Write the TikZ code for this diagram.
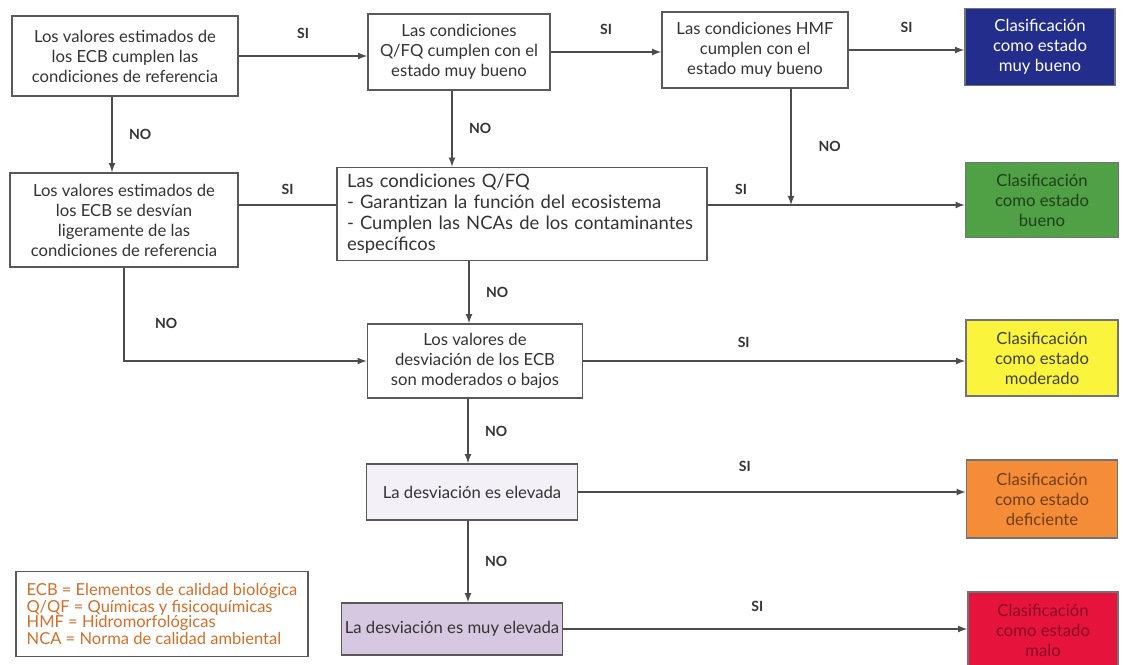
\documentclass[tikz,border=0pt]{standalone}
\usepackage{fontspec}
\setmainfont{Lato}
\usetikzlibrary{calc}
\definecolor{azulMB}{RGB}{35,45,140}
\definecolor{verdeB}{RGB}{80,160,70}
\definecolor{amarilloM}{RGB}{250,245,60}
\definecolor{naranjaD}{RGB}{245,140,55}
\definecolor{rojoMalo}{RGB}{230,20,60}
\definecolor{lilaClaro}{RGB}{243,241,247}
\definecolor{lila}{RGB}{215,200,225}
\definecolor{ocre}{RGB}{210,110,40}
\tikzset{
  caja/.style={draw=black!65, line width=0.9pt, align=center, inner sep=2pt,
    font=\fontsize{9.5}{11.4}\selectfont, text=black!80},
  clase/.style={caja, draw=black!55, minimum width=3cm, minimum height=1.52cm},
  flecha/.style={draw=black!70, line width=0.8pt, -latex},
  linea/.style={draw=black!70, line width=0.8pt},
  rama/.style={font=\fontsize{8}{9}\selectfont\bfseries, text=black!80}
}
\begin{document}
\begin{tikzpicture}[x=0.02cm, y=-0.02cm]
  \useasboundingbox (0,0) rectangle (1123,665);
  %%%%% cajas de decision %%%%%
  \node[caja, minimum width=4.52cm, minimum height=1.6cm] (ecbRef) at (125,56)
    {Los valores estimados de\\ los ECB cumplen las\\ condiciones de referencia};
  \node[caja, minimum width=3.64cm, minimum height=1.52cm] (qfqMB) at (459,52)
    {Las condiciones\\ Q/FQ cumplen con el\\ estado muy bueno};
  \node[caja, minimum width=3.72cm, minimum height=1.52cm] (hmfMB) at (755,50)
    {Las condiciones HMF\\ cumplen con el\\ estado muy bueno};
  \node[caja, minimum width=4.56cm, minimum height=1.88cm] (ecbLeve) at (124,220)
    {Los valores estimados de\\ los ECB se desvían\\ ligeramente de las\\ condiciones de referencia};
  \node[caja, align=left, text width=7.0cm, inner xsep=0.2cm, minimum height=1.86cm,
    font=\fontsize{10.5}{12}\selectfont] (qfqList) at (522,214)
    {Las condiciones Q/FQ\\ - Garantizan la función del ecosistema\\ - Cumplen las NCAs de los contaminantes\\ específicos};
  \node[caja, minimum width=4.3cm, minimum height=1.48cm] (moderadoQ) at (475,361)
    {Los valores de\\ desviación de los ECB\\ son moderados o bajos};
  \node[caja, fill=lilaClaro, minimum width=4.22cm, minimum height=1.12cm] (elevada) at (472,492)
    {La desviación es elevada};
  \node[caja, fill=lila, minimum width=3.36cm, minimum height=1.04cm] (muyElevada) at (452,629)
    {La desviación es muy elevada};
  %%%%% clasificaciones %%%%%
  \node[clase, fill=azulMB, text=white, minimum height=1.54cm] (muyBueno) at (1040,47)
    {Clasificación\\ como estado\\ muy bueno};
  \node[clase, fill=verdeB, text=black!60!verdeB, minimum width=3.06cm, minimum height=1.5cm] (bueno) at (1042,200)
    {Clasificación\\ como estado\\ bueno};
  \node[clase, fill=amarilloM, text=black!75, minimum width=3.04cm] (moderado) at (1042,358)
    {Clasificación\\ como estado\\ moderado};
  \node[clase, fill=naranjaD, text=black!55!naranjaD, minimum width=3.02cm, minimum height=1.56cm] (deficiente) at (1042,499)
    {Clasificación\\ como estado\\ deficiente};
  \node[clase, fill=rojoMalo, text=black!40!rojoMalo] (malo) at (1043,630)
    {Clasificación\\ como estado\\ malo};
  %%%%% leyenda %%%%%
  \node[caja, align=left, text=ocre, minimum width=5.84cm, minimum height=1.7cm,
    font=\fontsize{9.4}{8.6}\selectfont] (leyenda) at (162,614)
    {ECB = Elementos de calidad biológica\\ Q/QF = Químicas y fisicoquímicas\\ HMF = Hidromorfológicas\\ NCA = Norma de calidad ambiental};
  %%%%% conectores %%%%%
  \coordinate (unionBueno) at (791,205);
  \draw[flecha] (ecbRef.east) -- (ecbRef.east -| qfqMB.west) node[rama, midway, above=6pt] {SI};
  \draw[flecha] (qfqMB.east) -- (qfqMB.east -| hmfMB.west) node[rama, midway, above=6pt] {SI};
  \draw[flecha] (hmfMB.east) -- (hmfMB.east -| muyBueno.west) node[rama, midway, above=6pt] {SI};
  \draw[flecha] (ecbRef.south -| 112,0) -- (ecbLeve.north -| 112,0) node[rama, midway, right=6pt] {NO};
  \draw[flecha] (qfqMB.south -| 452,0) -- (qfqList.north -| 452,0) node[rama, midway, right=6pt] {NO};
  \draw[flecha] (hmfMB.south -| unionBueno) -- (unionBueno) node[rama, midway, right=12pt] {NO};
  \draw[linea] (ecbLeve.east |- unionBueno) -- (unionBueno -| qfqList.west) node[rama, midway, above=2pt] {SI};
  \draw[flecha] (qfqList.east |- unionBueno) -- (unionBueno -| bueno.west) node[rama, pos=0.13, above=2pt] {SI};
  \draw[flecha] (qfqList.south -| 469,0) -- (moderadoQ.north -| 469,0) node[rama, midway, right=6pt] {NO};
  \draw[flecha] (ecbLeve.south) |- (moderadoQ.west) node[rama, pos=0.3, right=14pt] {NO};
  \draw[flecha] (moderadoQ.east) -- (moderadoQ.east -| moderado.west) node[rama, pos=0.42, above=4pt] {SI};
  \draw[flecha] (moderadoQ.south -| 468,0) -- (elevada.north -| 468,0) node[rama, midway, right=6pt] {NO};
  \draw[flecha] (elevada.east) -- (elevada.east -| deficiente.west) node[rama, pos=0.43, above=8pt] {SI};
  \draw[flecha] (elevada.south -| 468,0) -- (muyElevada.north -| 468,0) node[rama, midway, right=6pt] {NO};
  \draw[flecha] (muyElevada.east) -- (muyElevada.east -| malo.west) node[rama, pos=0.48, above=6pt] {SI};
\end{tikzpicture}
\end{document}
